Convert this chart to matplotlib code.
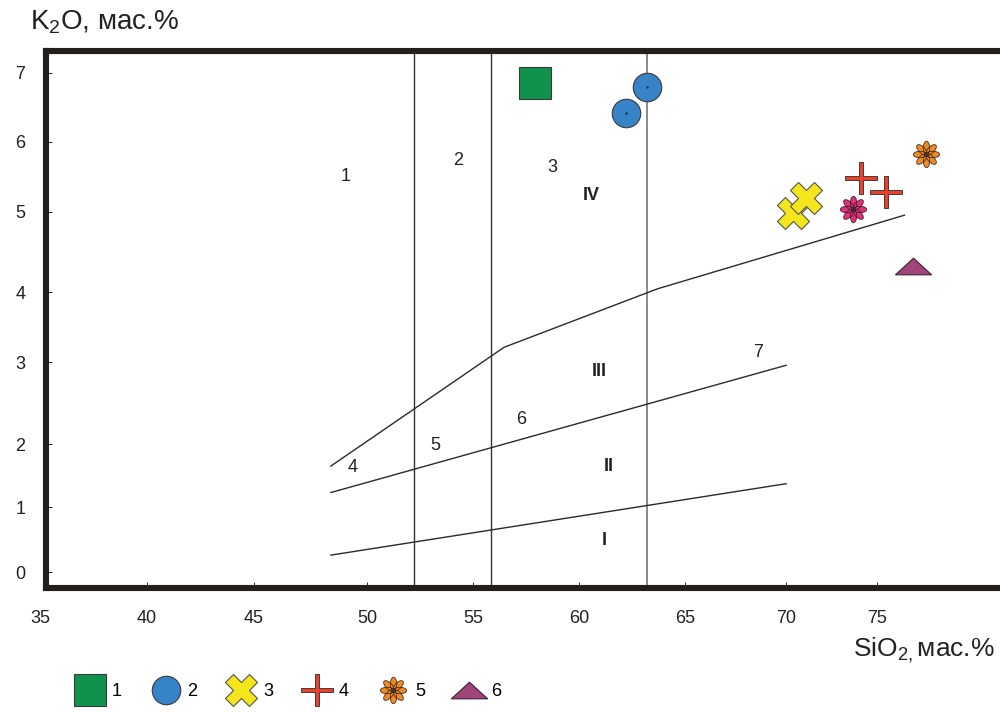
import numpy as np
import matplotlib
matplotlib.use('Agg')
import matplotlib.pyplot as plt
from matplotlib.path import Path
from matplotlib.transforms import Affine2D

plt.rcParams['font.family'] = ['Liberation Sans', 'DejaVu Sans']
plt.rcParams['mathtext.default'] = 'regular'

# --- шкалы осей (неравномерная разметка исходной диаграммы) ---
x_ticks = [35, 40, 45, 50, 55, 60, 65, 70, 75]
x_step = [0, 107, 214, 327, 433, 539, 645, 746, 837]
y_ticks = [0, 1, 2, 3, 4, 5, 6, 7]
y_step = [0, 65, 128, 210, 280, 360, 430, 499]

# --- точки составов по группам ---
sio2_1 = [57.9]
k2o_1 = [6.86]
sio2_2 = [63.2, 62.2]
k2o_2 = [6.79, 6.42]
sio2_3 = [70.4, 71.1]
k2o_3 = [4.99, 5.20]
sio2_4 = [74.1, 75.5]
k2o_4 = [5.49, 5.29]
sio2_5 = [77.7, 73.7]
k2o_5 = [5.83, 5.04]
sio2_6 = [76.96]
k2o_6 = [4.32]

# --- границы серий (Peccerillo, Taylor) ---
line_a_x = [48.4, 56.46, 63.7, 76.5]
line_a_y = [1.65, 3.21, 4.04, 4.96]
line_b_x = [48.4, 70.0]
line_b_y = [1.23, 2.96]
line_c_x = [48.4, 70.0]
line_c_y = [0.26, 1.37]
vlines_x = [52.2, 55.85, 63.2]

# подписи полей
field_nums = ['1', '2', '3', '4', '5', '6', '7']
field_nums_x = [49.07, 54.29, 58.73, 49.34, 53.21, 57.26, 68.61]
field_nums_y = [5.51, 5.74, 5.63, 1.63, 1.98, 2.30, 3.14]
series = ['IV', 'III', 'II', 'I']
series_x = [60.57, 60.94, 61.42, 61.18]
series_y = [5.23, 2.89, 1.65, 0.49]


def piecewise(knots, mapped):
    k = np.asarray(knots, float)
    m = np.asarray(mapped, float)

    def make(a, b):
        def f(v):
            v = np.asarray(v, float)
            out = np.interp(v, a, b)
            out = np.where(v < a[0], b[0] + (v - a[0]) * (b[1] - b[0]) / (a[1] - a[0]), out)
            out = np.where(v > a[-1], b[-1] + (v - a[-1]) * (b[-1] - b[-2]) / (a[-1] - a[-2]), out)
            return out
        return f
    return make(k, m), make(m, k)


def flower():
    petals = []
    for ang in range(0, 360, 45):
        tr = Affine2D().scale(0.24, 0.5).translate(0, 0.5).rotate_deg(ang)
        petals.append(Path.unit_circle().transformed(tr))
    return Path.make_compound_path(*petals)


plus_mk = Path([(-1, -0.1), (-0.1, -0.1), (-0.1, -1), (0.1, -1), (0.1, -0.1), (1, -0.1),
                (1, 0.1), (0.1, 0.1), (0.1, 1), (-0.1, 1), (-0.1, 0.1), (-1, 0.1), (-1, -0.1)],
               closed=True)
tri_mk = Path([(0, 0.46), (1, -0.46), (-1, -0.46), (0, 0.46)], closed=True)
flower_mk = flower()

fig = plt.figure(figsize=(10, 7.13), dpi=100)
ax = fig.add_axes([0.046, 0.1753, 0.964, 0.7532])
ax.set_xscale('function', functions=piecewise(x_ticks, x_step))
ax.set_yscale('function', functions=piecewise(y_ticks, y_step))
ax.set_xlim(35.28, 82.3)
ax.set_ylim(-0.246, 7.319)

dark = '#231f1c'
for s in ax.spines.values():
    s.set_linewidth(4.4)
    s.set_color(dark)

ax.set_xticks(x_ticks[1:])
ax.set_yticks(y_ticks)
ax.tick_params(direction='in', length=4, width=0.7, color=dark, labelsize=13, labelcolor='#222222')
ax.tick_params(axis='x', pad=15.6)
ax.tick_params(axis='y', pad=15)
ax.annotate('35', xy=(35, 0), xycoords=('data', 'axes fraction'), xytext=(0, -15.6),
            textcoords='offset points', ha='center', va='top', fontsize=13, color='#222222')

# вертикальные границы по SiO2
for i, xv in enumerate(vlines_x):
    ax.axvline(xv, color='#8a8a8a' if i == 2 else '#333333', lw=1.4 if i == 2 else 1.0, zorder=1)

for lx, ly in [(line_a_x, line_a_y), (line_b_x, line_b_y), (line_c_x, line_c_y)]:
    ax.plot(lx, ly, color='#2a2a2a', lw=1.0, zorder=1)

for t, xv, yv in zip(field_nums, field_nums_x, field_nums_y):
    ax.text(xv, yv, t, ha='center', va='center', fontsize=13, color='#222222')
for t, xv, yv in zip(series, series_x, series_y):
    ax.text(xv, yv, t, ha='center', va='center', fontsize=13, fontweight='bold', color='#222222')

edge = '#3a3a3a'
h1, = ax.plot(sio2_1, k2o_1, ls='none', marker='s', ms=23.5, mfc='#10914c', mec=edge, mew=0.8,
              label='1', zorder=3)
h2, = ax.plot(sio2_2, k2o_2, ls='none', marker='o', ms=20.5, mfc='#3683c8', mec=edge, mew=0.8,
              label='2', zorder=3)
ax.plot(sio2_2, k2o_2, ls='none', marker='.', ms=1.5, color='#1a2a40', zorder=4)
h3, = ax.plot(sio2_3, k2o_3, ls='none', marker='X', ms=23, mfc='#f4e61a', mec='#555555', mew=0.8,
              label='3', zorder=3)
h4, = ax.plot(sio2_4, k2o_4, ls='none', marker=plus_mk, ms=23, mfc='#e8432a', mec='#2a2a2a', mew=0.6,
              label='4', zorder=3)
h5, = ax.plot(sio2_5[:1], k2o_5[:1], ls='none', marker=flower_mk, ms=19, mfc='#f08a24', mec='#4a3020',
              mew=0.6, label='5', zorder=3)
ax.plot(sio2_5[1:], k2o_5[1:], ls='none', marker=flower_mk, ms=19, mfc='#e0307a', mec='#4a2030',
        mew=0.6, zorder=3)
h6, = ax.plot(sio2_6, k2o_6, ls='none', marker=tri_mk, ms=26, mfc='#a0457a', mec='#3a2030', mew=0.8,
              label='6', zorder=3)

fig.text(0.03, 1 - 22 / 713, 'K$_2$O, мас.%', fontsize=20, ha='left', va='center', color='#222222')
fig.text(0.995, 1 - 650 / 713, 'SiO$_{2,}$мас.%', fontsize=19, ha='right', va='center', color='#222222')

fig.legend(handles=[h1, h2, h3, h4, h5, h6], loc='center left', bbox_to_anchor=(0.068, 1 - 692 / 713),
           ncol=6, frameon=False, fontsize=13, handlelength=1.6, handletextpad=0.4,
           columnspacing=1.65, numpoints=1, borderaxespad=0)

fig.savefig('out.png', dpi=100)
